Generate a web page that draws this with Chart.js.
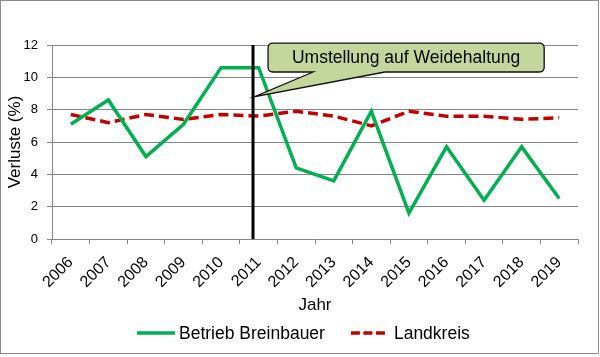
<!DOCTYPE html>
<html>
<head>
<meta charset="utf-8">
<script src="https://cdn.jsdelivr.net/npm/chart.js@4.4.1/dist/chart.umd.min.js"></script>
<style>
  html, body { margin: 0; padding: 0; background: #fff; }
  #wrap { width: 600px; height: 357px; position: relative; }
</style>
</head>
<body>
<div id="wrap"><canvas id="c" width="600" height="357"></canvas></div>
<script>
const years = ["2006","2007","2008","2009","2010","2011","2012","2013","2014","2015","2016","2017","2018","2019"];
const betrieb = [7.1, 8.6, 5.1, 7.1, 10.6, 10.6, 4.4, 3.6, 7.9, 1.6, 5.7, 2.4, 5.7, 2.5];
const landkreis = [7.7, 7.2, 7.7, 7.4, 7.7, 7.6, 7.9, 7.6, 7.0, 7.9, 7.6, 7.6, 7.4, 7.5];
const yTicks = [0, 2, 4, 6, 8, 10, 12];
const seriesNames = ["Betrieb Breinbauer", "Landkreis"];
const annotationText = "Umstellung auf Weidehaltung";
const markerIndex = 4.85;   // position of the vertical line (category units)
const calloutTipValue = 8.8;

const FONT = "'Liberation Sans', Arial, sans-serif";
const GRID = "#868686";

const annotationPlugin = {
  id: "annot",
  beforeDraw(chart) {
    const ctx = chart.ctx;
    ctx.save();
    ctx.fillStyle = "#fff";
    ctx.fillRect(0, 0, chart.width, chart.height);
    ctx.strokeStyle = "#8c8c8c";
    ctx.lineWidth = 1;
    ctx.strokeRect(0.5, 0.5, 598, 353);
    ctx.restore();
  },
  afterDatasetsDraw(chart) {
    const ctx = chart.ctx;
    const xs = chart.scales.x, ys = chart.scales.y;
    const ca = chart.chartArea;
    const lx = xs.getPixelForValue(markerIndex);
    ctx.save();
    ctx.strokeStyle = "#000";
    ctx.lineWidth = 3;
    ctx.beginPath();
    ctx.moveTo(lx, ca.top);
    ctx.lineTo(lx, ca.bottom);
    ctx.stroke();

    // callout
    const bx0 = xs.getPixelForValue(5.25), bx1 = xs.getPixelForValue(12.6);
    const by0 = ys.getPixelForValue(12.12), by1 = ys.getPixelForValue(10.33);
    const t0 = xs.getPixelForValue(6.45), t1 = xs.getPixelForValue(8.36);
    const tipX = lx + 1.5, tipY = ys.getPixelForValue(calloutTipValue);
    const r = 5;
    ctx.beginPath();
    ctx.moveTo(bx0 + r, by0);
    ctx.lineTo(bx1 - r, by0);
    ctx.quadraticCurveTo(bx1, by0, bx1, by0 + r);
    ctx.lineTo(bx1, by1 - r);
    ctx.quadraticCurveTo(bx1, by1, bx1 - r, by1);
    ctx.lineTo(t1, by1);
    ctx.lineTo(tipX, tipY);
    ctx.lineTo(t0, by1);
    ctx.lineTo(bx0 + r, by1);
    ctx.quadraticCurveTo(bx0, by1, bx0, by1 - r);
    ctx.lineTo(bx0, by0 + r);
    ctx.quadraticCurveTo(bx0, by0, bx0 + r, by0);
    ctx.closePath();
    ctx.fillStyle = "#c3d69b";
    ctx.fill();
    ctx.strokeStyle = "#111";
    ctx.lineWidth = 1.3;
    ctx.stroke();

    ctx.fillStyle = "#000";
    ctx.font = "17.5px " + FONT;
    ctx.textAlign = "center";
    ctx.textBaseline = "middle";
    ctx.fillText(annotationText, (bx0 + bx1) / 2, (by0 + by1) / 2 + 1);
    ctx.restore();
  },
  afterDraw(chart) {
    // legend drawn from the dataset styles
    const ctx = chart.ctx;
    ctx.save();
    ctx.font = "17.5px " + FONT;
    ctx.textBaseline = "middle";
    ctx.textAlign = "left";
    let x = 137;
    const y = 333;
    const sampleW = [38, 34];
    const textGap = [4, 9];
    chart.data.datasets.forEach((ds, i) => {
      ctx.strokeStyle = ds.borderColor;
      ctx.lineWidth = ds.borderWidth;
      ctx.lineCap = "butt";
      ctx.setLineDash(ds.borderDash ? [9, 3.5] : []);
      ctx.beginPath();
      ctx.moveTo(x, y);
      ctx.lineTo(x + sampleW[i], y);
      ctx.stroke();
      ctx.setLineDash([]);
      x += sampleW[i] + textGap[i];
      ctx.fillStyle = "#000";
      ctx.fillText(ds.label, x, y + 1);
      x += ctx.measureText(ds.label).width + 26;
    });
    ctx.restore();
  }
};

new Chart(document.getElementById("c"), {
  type: "line",
  data: {
    labels: years,
    datasets: [
      {
        label: seriesNames[0],
        data: betrieb,
        borderColor: "#00b050",
        backgroundColor: "#00b050",
        borderWidth: 3.5,
        pointRadius: 0,
        tension: 0,
        borderJoinStyle: "miter"
      },
      {
        label: seriesNames[1],
        data: landkreis,
        borderColor: "#c00000",
        backgroundColor: "#c00000",
        borderWidth: 3.5,
        borderDash: [10, 5],
        pointRadius: 0,
        tension: 0
      }
    ]
  },
  options: {
    responsive: false,
    animation: false,
    devicePixelRatio: 1,
    layout: { padding: { left: 0, right: 22, top: 45, bottom: 40 } },
    plugins: {
      tooltip: { enabled: false },
      legend: { display: false }
    },
    scales: {
      x: {
        type: "category",
        offset: true,
        grid: {
          display: true,
          offset: true,
          drawOnChartArea: false,
          drawTicks: true,
          tickLength: 5,
          color: GRID
        },
        border: { display: true, color: GRID, width: 1 },
        ticks: {
          color: "#000",
          font: { family: FONT, size: 16 },
          minRotation: 45,
          maxRotation: 45,
          padding: 9,
          autoSkip: false
        },
        title: {
          display: true,
          text: "Jahr",
          color: "#000",
          font: { family: FONT, size: 17 },
          padding: { top: 2, bottom: 1 }
        },
        afterFit(scale) { scale.height = 78; }
      },
      y: {
        min: 0,
        max: 12,
        afterBuildTicks(scale) { scale.ticks = yTicks.map(v => ({ value: v })); },
        grid: { color: GRID, tickLength: 5, drawTicks: true },
        border: { display: true, color: GRID, width: 1 },
        ticks: {
          color: "#000",
          font: { family: FONT, size: 13 },
          padding: 9
        },
        title: {
          display: true,
          text: "Verluste (%)",
          color: "#000",
          font: { family: FONT, size: 17 },
          padding: { top: 5, bottom: 0 }
        },
        afterFit(scale) { scale.width = 52; }
      }
    }
  },
  plugins: [annotationPlugin]
});
</script>
</body>
</html>
